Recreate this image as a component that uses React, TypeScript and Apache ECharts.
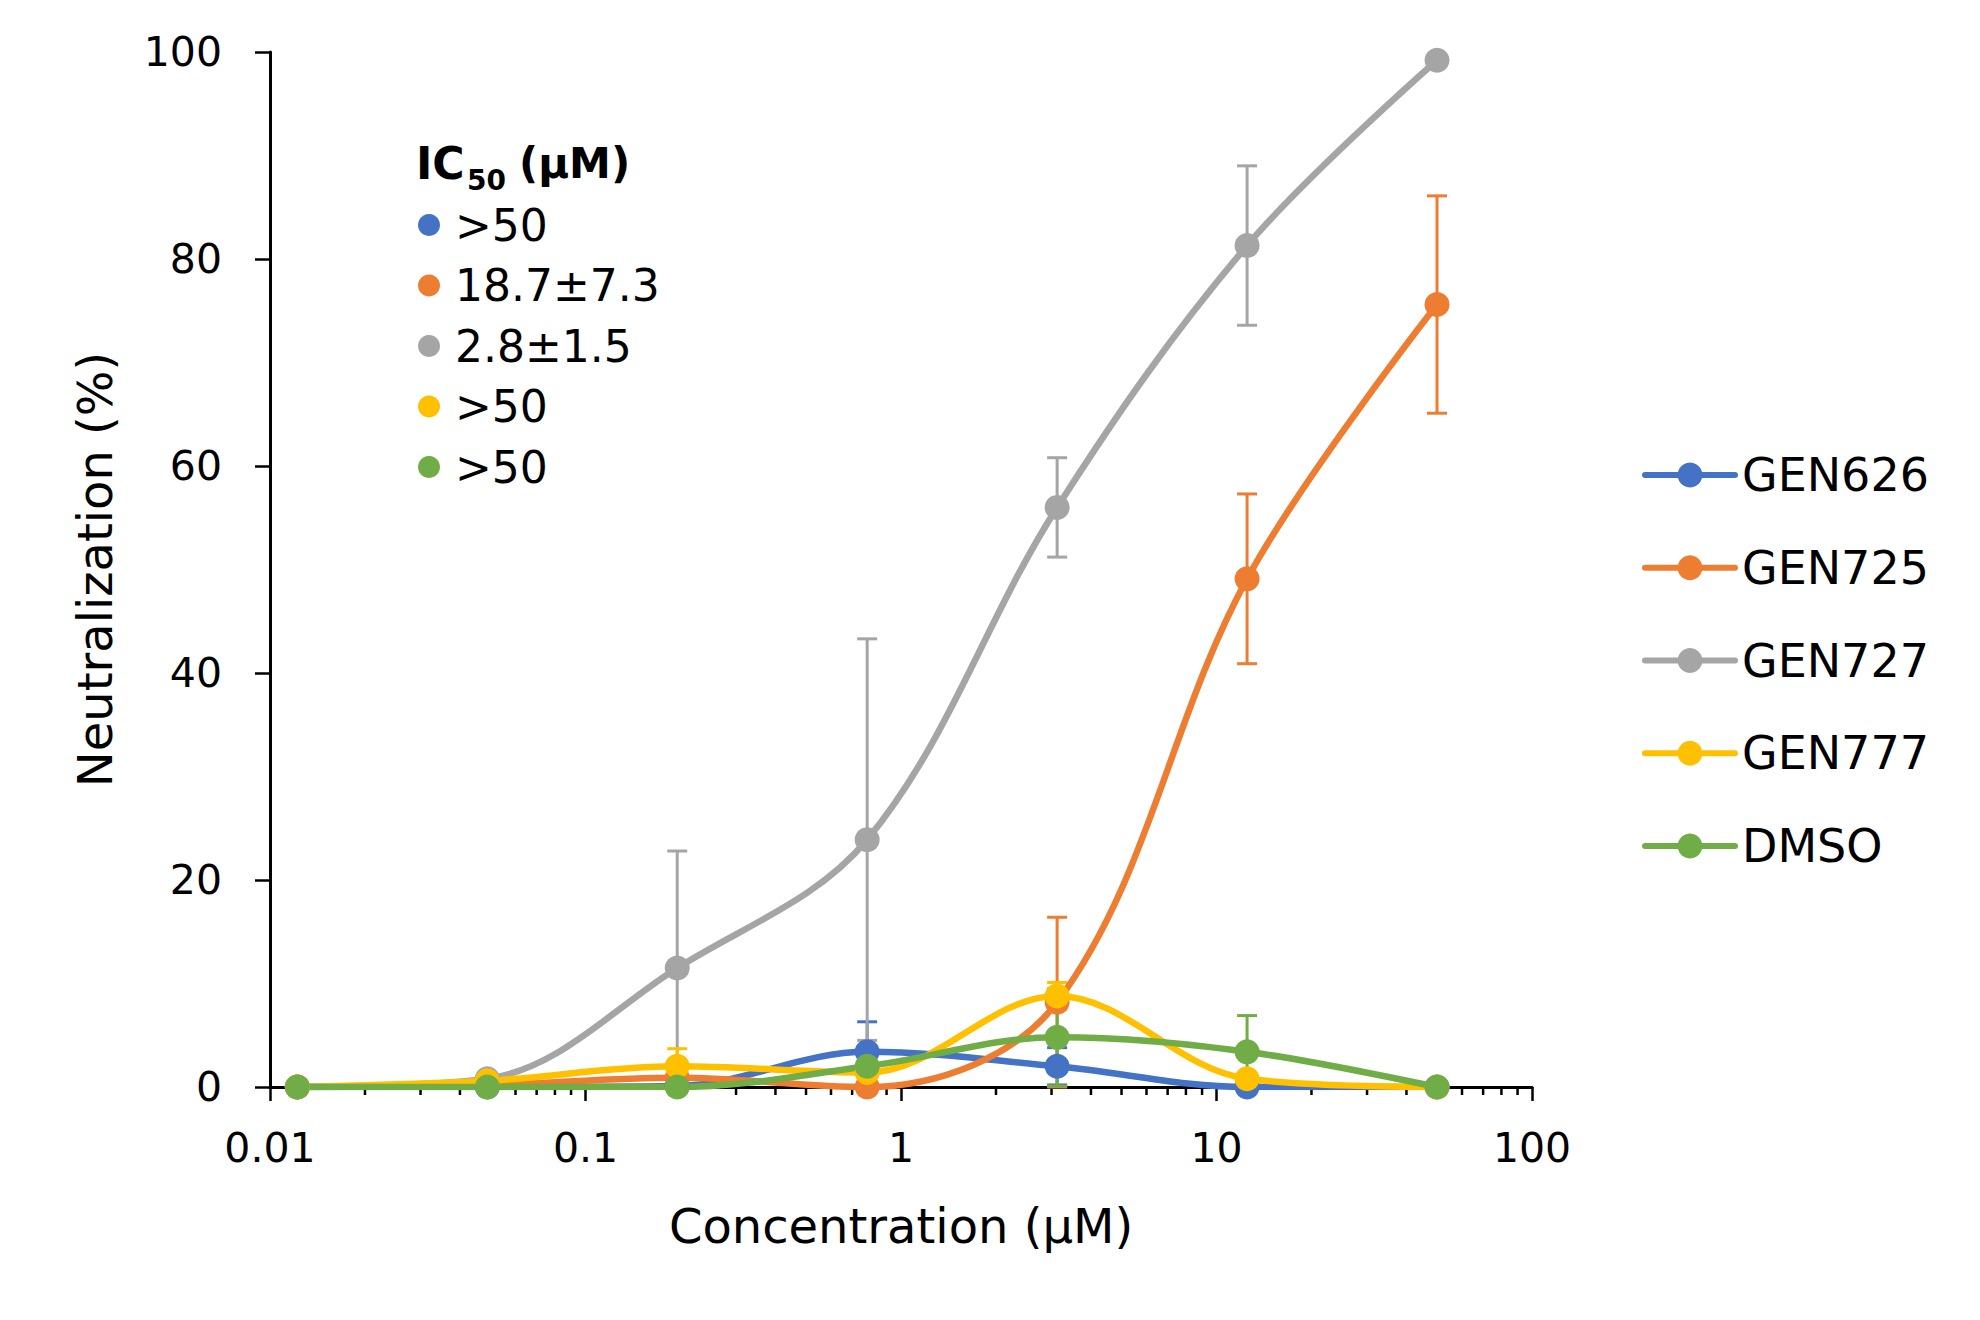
import React, { useEffect, useRef } from "react";
import * as echarts from "echarts";

// ---- data ----
const concentrations = [0.01220703125, 0.048828125, 0.1953125, 0.78125, 3.125, 12.5, 50];
const seriesNames = ["GEN626", "GEN725", "GEN727", "GEN777", "DMSO"];
const seriesColors = ["#4472C4", "#ED7D31", "#A5A5A5", "#FFC000", "#70AD47"];

const gen626 = [0, 0, 0.1, 3.4, 2.0, 0, 0];
const gen626Err = [0, 0, 0, 2.9, 1.8, 0, 0];
const gen725 = [0, 0.2, 0.9, 0, 8.2, 49.1, 75.6];
const gen725Err = [0, 0, 0, 0, 8.2, 8.2, 10.5];
const gen727 = [0, 0.8, 11.5, 23.9, 56.0, 81.3, 99.2];
const gen727Err = [0, 0, 11.3, 19.4, 4.8, 7.7, 0];
const gen777 = [0, 0.6, 2.0, 1.4, 8.8, 0.8, 0];
const gen777Err = [0, 0, 1.7, 0, 1.3, 0, 0];
const dmso = [0, 0, 0, 2.0, 4.8, 3.4, 0];
const dmsoErr = [0, 0, 0, 0, 4.7, 3.5, 0];

const ic50Labels = [">50", "18.7±7.3", "2.8±1.5", ">50", ">50"];

const xTickLabels = ["0.01", "0.1", "1", "10", "100"];
const yTicks = [0, 20, 40, 60, 80, 100];
const decades = [0.01, 0.1, 1, 10];
const minorMultipliers = [2, 3, 4, 5, 6, 7, 8, 9];

const FONT = "DejaVu Sans";

const seriesValues = [gen626, gen725, gen727, gen777, dmso];
const seriesErrors = [gen626Err, gen725Err, gen727Err, gen777Err, dmsoErr];

function lineSeries(i: number) {
  return {
    type: "line",
    name: seriesNames[i],
    data: concentrations.map((c, k) => [c, seriesValues[i][k]]),
    smooth: 0.35,
    symbol: "circle",
    symbolSize: 25,
    showSymbol: true,
    lineStyle: { color: seriesColors[i], width: 6.5, cap: "round" },
    itemStyle: { color: seriesColors[i] },
    emphasis: { disabled: true },
    silent: true,
    z: 3,
  };
}

function errorSeries(i: number) {
  const color = seriesColors[i];
  const data: number[][] = [];
  concentrations.forEach((c, k) => {
    const e = seriesErrors[i][k];
    if (e > 0) data.push([c, seriesValues[i][k] - e, seriesValues[i][k] + e]);
  });
  return {
    type: "custom",
    data,
    silent: true,
    z: 3,
    encode: { x: 0, y: [1, 2] },
    renderItem: (params: any, api: any) => {
      const x = api.value(0);
      const lo = api.coord([x, api.value(1)]);
      const hi = api.coord([x, api.value(2)]);
      const w = 10;
      const st = { stroke: color, lineWidth: 3 };
      return {
        type: "group",
        children: [
          { type: "line", shape: { x1: lo[0], y1: lo[1], x2: hi[0], y2: hi[1] }, style: st },
          { type: "line", shape: { x1: hi[0] - w, y1: hi[1], x2: hi[0] + w, y2: hi[1] }, style: st },
          { type: "line", shape: { x1: lo[0] - w, y1: lo[1], x2: lo[0] + w, y2: lo[1] }, style: st },
        ],
      };
    },
  };
}

const minorTickValues: number[][] = [];
decades.forEach((d) => minorMultipliers.forEach((m) => minorTickValues.push([d * m, 0])));

const minorTickSeries = {
  type: "custom",
  data: minorTickValues,
  silent: true,
  z: 1,
  encode: { x: 0, y: 1 },
  renderItem: (params: any, api: any) => {
    const p = api.coord([api.value(0), 0]);
    return {
      type: "line",
      shape: { x1: p[0], y1: p[1], x2: p[0], y2: p[1] + 8 },
      style: { stroke: "#000", lineWidth: 2.5 },
    };
  },
};

export default function App() {
  const ref = useRef<HTMLDivElement>(null);
  useEffect(() => {
    if (!ref.current) return;
    const chart = echarts.init(ref.current, null, { renderer: "svg" });

    const series: any[] = [minorTickSeries];
    for (let i = 0; i < seriesNames.length; i++) {
      series.push(lineSeries(i));
      series.push(errorSeries(i));
    }

    const icGraphics: any[] = [];
    ic50Labels.forEach((label, i) => {
      const cy = 225 + i * 60.5;
      icGraphics.push({
        type: "circle",
        shape: { cx: 429, cy, r: 11 },
        style: { fill: seriesColors[i] },
        silent: true,
      });
      icGraphics.push({
        type: "text",
        x: 455,
        y: cy,
        style: {
          text: label,
          fontFamily: FONT,
          fontSize: 44,
          fill: "#000",
          verticalAlign: "middle",
          align: "left",
        },
        silent: true,
      });
    });
    const titleStyle = { fontFamily: FONT, fontWeight: "bold", fill: "#000", align: "left", verticalAlign: "middle" };
    icGraphics.push({
      type: "text",
      x: 416,
      y: 163,
      style: { ...titleStyle, text: "IC", fontSize: 44 },
      silent: true,
    });
    icGraphics.push({
      type: "text",
      x: 467,
      y: 180,
      style: { ...titleStyle, text: "50", fontSize: 28 },
      silent: true,
    });
    icGraphics.push({
      type: "text",
      x: 519,
      y: 163,
      style: { ...titleStyle, text: "(µM)", fontSize: 42 },
      silent: true,
    });

    chart.setOption({
      animation: false,
      backgroundColor: "#fff",
      grid: { left: 270, right: 448, top: 52, bottom: 233, containLabel: false },
      xAxis: {
        type: "log",
        logBase: 10,
        min: 0.01,
        max: 100,
        name: "Concentration (µM)",
        nameLocation: "middle",
        nameGap: 115,
        nameTextStyle: { fontFamily: FONT, fontSize: 48, color: "#000" },
        axisLine: { show: true, lineStyle: { color: "#000", width: 3 } },
        axisTick: { show: true, inside: false, length: 14, lineStyle: { color: "#000", width: 2.5 } },
        minorTick: { show: false },
        splitLine: { show: false },
        axisLabel: {
          fontFamily: FONT,
          fontSize: 41,
          color: "#000",
          margin: 40,
          formatter: (v: number) => {
            const idx = Math.round(Math.log10(v) + 2);
            return xTickLabels[idx] ?? String(v);
          },
        },
      },
      yAxis: {
        type: "value",
        min: yTicks[0],
        max: yTicks[yTicks.length - 1],
        interval: 20,
        name: "Neutralization (%)",
        nameLocation: "middle",
        nameGap: 151,
        nameRotate: 90,
        nameTextStyle: { fontFamily: FONT, fontSize: 48, color: "#000" },
        axisLine: { show: true, lineStyle: { color: "#000", width: 3 } },
        axisTick: { show: true, inside: false, length: 15, lineStyle: { color: "#000", width: 2.5 } },
        splitLine: { show: false },
        axisLabel: { fontFamily: FONT, fontSize: 41, color: "#000", margin: 48 },
      },
      legend: {
        data: seriesNames,
        orient: "vertical",
        left: 1637,
        top: 447,
        itemWidth: 90,
        itemHeight: 31,
        itemGap: 46.75,
        selectedMode: false,
        textStyle: { fontFamily: FONT, fontSize: 46, color: "#000", lineHeight: 46, padding: [0, 0, 0, 2] },
        lineStyle: { width: 6, cap: "round" },
      },
      graphic: icGraphics,
      series,
    });

    return () => chart.dispose();
  }, []);

  return (
    <div
      ref={ref}
      style={{ position: "fixed", left: 0, top: 0, width: 1980, height: 1320, background: "#fff" }}
    />
  );
}
